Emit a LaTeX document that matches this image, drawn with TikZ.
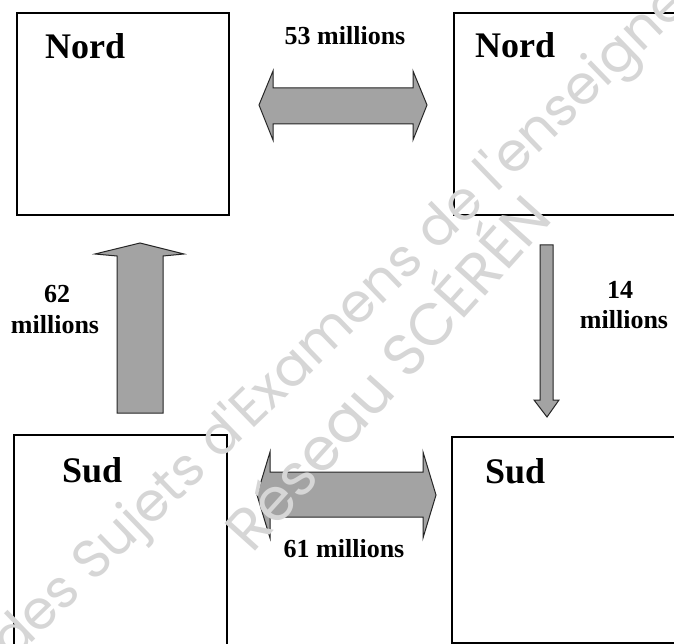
\documentclass[tikz,border=0pt]{standalone}
\usepackage{fontspec}
\setmainfont{Liberation Serif}
\newfontfamily\wmfont{Poppins}
\begin{document}
\begin{tikzpicture}[x=1pt,y=-1pt,
  box/.style={draw=black, line width=1.6pt, inner sep=0pt, anchor=north west},
  boxtitle/.style={anchor=base west, inner sep=0pt, font=\fontsize{36}{40}\selectfont\bfseries},
  lbl/.style={anchor=base, inner sep=0pt, font=\fontsize{26}{28}\selectfont\bfseries},
  blockarrow/.style={fill=black!36, draw=black!85, line width=1pt, line join=miter},
  wm/.style={text=gray!32, font=\wmfont\fontsize{54}{56}\selectfont, anchor=base west, inner sep=0pt}]
\useasboundingbox (0,0) rectangle (674,644);
\fill[white] (0,0) rectangle (674,644);
% boxes
\node[box, minimum width=212pt, minimum height=202pt] (nw) at (16,12) {};
\node[box, minimum width=230pt, minimum height=202pt] (ne) at (453,12) {};
\node[box, minimum width=213pt, minimum height=220pt] (sw) at (13,434) {};
\node[box, minimum width=232pt, minimum height=206pt] (se) at (451,436) {};
\node[boxtitle] (nwt) at ([shift={(29,47)}]nw.north west) {Nord};
\node[boxtitle] (net) at ([shift={(22,46)}]ne.north west) {Nord};
\node[boxtitle] (swt) at ([shift={(49,48)}]sw.north west) {Sud};
\node[boxtitle] (set) at ([shift={(34,47)}]se.north west) {Sud};
% block arrows
\draw[blockarrow] (259,105) -- (273,71) -- (273,88) -- (413,88) -- (413,71) -- (427,105)
  -- (413,140) -- (413,124) -- (273,124) -- (273,140) -- cycle;
\draw[blockarrow] (257,495) -- (270,452) -- (270,472) -- (423,472) -- (423,452) -- (436,495)
  -- (423,538) -- (423,517) -- (270,517) -- (270,538) -- cycle;
\draw[blockarrow] (140,243) -- (184,254) -- (163,256) -- (163,413) -- (117,413)
  -- (117,256) -- (95,254) -- cycle;
\draw[blockarrow] (540,245) -- (553,245) -- (553,400) -- (559,400) -- (547,417)
  -- (534,400) -- (540,400) -- cycle;
% labels
\node[lbl] (l53) at (345,45) {53 millions};
\node[lbl] (l62a) at (57,302) {62};
\node[lbl] (l62b) at (55,333) {millions};
\node[lbl] (l14a) at (620,298) {14};
\node[lbl] (l14b) at (624,328) {millions};
\node[lbl] (l61) at (344,557) {61 millions};
% watermark
\node[wm, rotate=44] (wm1) at (12,662) {des Sujets d'Examens de l'enseignement};
\node[wm, rotate=48, font=\wmfont\fontsize{59}{60}\selectfont] (wm2) at (252,555) {Réseau SCÉRÉN};
\end{tikzpicture}
\end{document}
